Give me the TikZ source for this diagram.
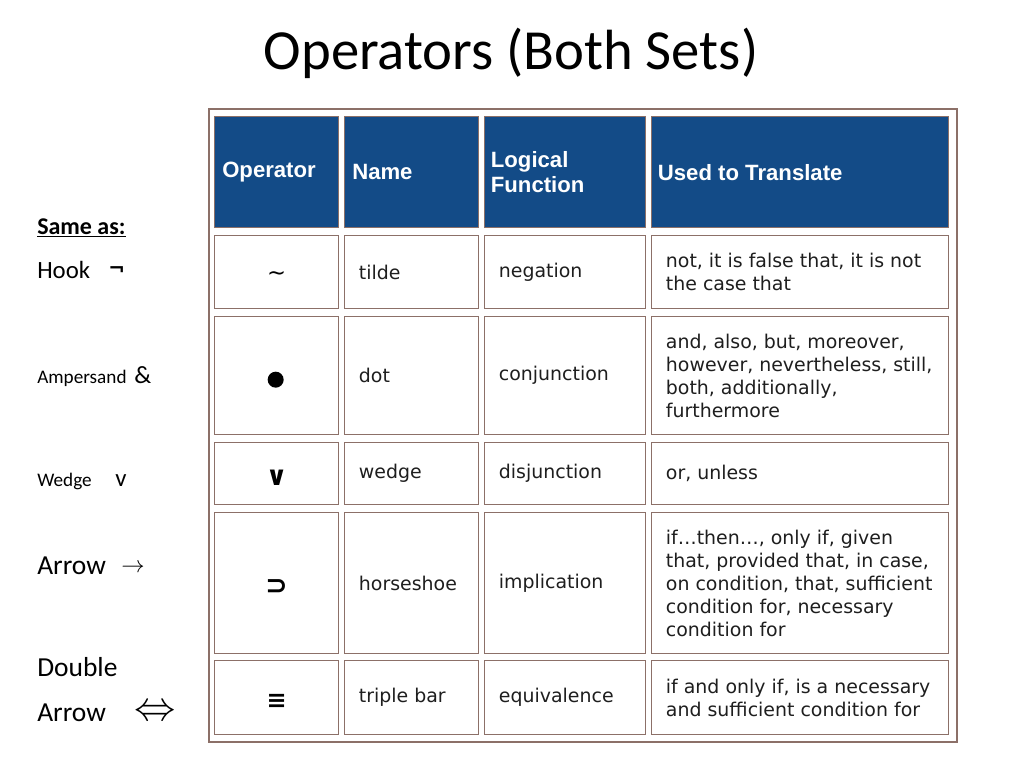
\documentclass[tikz,border=0pt]{standalone}
\usepackage{fix-cm}
\usepackage{fontspec}
\setmainfont{Carlito}
\newfontfamily\tabfont{DejaVu Sans}
\newfontfamily\headfont{Liberation Sans}
\usetikzlibrary{positioning}
\definecolor{headblue}{RGB}{19,75,135}
\definecolor{cellline}{RGB}{140,112,104}
\definecolor{bodytext}{RGB}{30,30,30}
\tikzset{
  tbl/.style={
    rectangle, draw=cellline, line width=1.2pt,
    inner sep=0pt, anchor=north west,
  },
  cell/.style={
    rectangle, draw=cellline, line width=1pt,
    inner sep=0pt, anchor=north west,
  },
  head/.style={cell, fill=headblue},
  headtext/.style={
    anchor=west, text=white, align=left, inner sep=0pt,
    font=\headfont\bfseries\fontsize{16.6}{18.75}\selectfont,
  },
  celltext/.style={
    anchor=west, text=bodytext, align=left, inner sep=0pt,
    font=\tabfont\fontsize{14.2}{17.25}\selectfont,
  },
  opsym/.style={text=black, inner sep=0pt, font=\tabfont\bfseries\fontsize{20}{24}\selectfont},
  title/.style={font=\fontsize{42.5}{50}\selectfont},
  side/.style={anchor=base west, inner sep=0pt, font=\fontsize{18.6}{22}\selectfont},
  sidebig/.style={side, font=\fontsize{20.6}{24}\selectfont},
  sidesmall/.style={side, font=\fontsize{14.4}{17}\selectfont},
}

\begin{document}
\begin{tikzpicture}[x=0.75pt,y=-0.75pt]
\useasboundingbox (0,0) rectangle (1024,768);
\node [title] (ttl) at (511,53) {Operators (Both Sets)};

\node [side, font=\bfseries\fontsize{18}{22}\selectfont] (same) at (37,234) {\underline{Same as:}};
\node [side] (hook) at (37,278) {Hook};
\node [side, font=\tabfont\bfseries\fontsize{15}{18}\selectfont] (neg) at (108,275) {¬};
\node [sidesmall] (amp) at (37,383) {Ampersand};
\node [side] (ampsym) at (134,383) {\&};
\node [sidesmall] (wed) at (37,486) {Wedge};
\node [side] (wedsym) at (115,486) {v};
\node [sidebig] (arr) at (37,574) {Arrow};
\node [sidebig, font=\fontsize{17.5}{20}\selectfont] (arrsym) at (121,572) {$\rightarrow$};
\node [sidebig] (dbl) at (37,676) {Double};
\node [sidebig] (darr) at (37,721) {Arrow};
\node [sidebig, font=\fontsize{31}{34}\selectfont] (darrsym) at (134,720) {$\Leftrightarrow$};

\node [tbl, minimum width=748*0.75pt, minimum height=633*0.75pt] (tab) at (208,108) {};
\foreach \c/\l/\w in {1/214/124,2/344/134,3/484/161,4/651/297}
  \node [head, minimum width=\w*0.75pt, minimum height=111*0.75pt] (h\c) at (\l,116) {};
\foreach \r/\t/\h in {1/235/73,2/316/118,3/442/62,4/512/141,5/660/74}
  \foreach \c/\l/\w in {1/214/124,2/344/134,3/484/161,4/651/297}
    \node [cell, minimum width=\w*0.75pt, minimum height=\h*0.75pt] (c\r\c) at (\l,\t) {};

\node [headtext, right=6pt of h1.west] (hop) {Operator};
\node [headtext, right=6pt of h2.west] (hnm) {Name};
\node [headtext, right=5pt of h3.west] (hlf) {Logical\\Function};
\node [headtext, right=5pt of h4.west] (hut) {Used to Translate};

\node [opsym, font=\tabfont\fontsize{17}{20}\selectfont] (op1) at ([yshift=-2.5pt]c11.center) {∼};
\node [circle, fill=black, inner sep=0pt, minimum size=12pt] (op2) at ([xshift=-0.75pt,yshift=-3pt]c21.center) {};
\node [opsym] (op3) at ([yshift=-3pt]c31.center) {∨};
\node [opsym] (op4) at ([yshift=-3pt]c41.center) {⊃};
\node [opsym, font=\tabfont\bfseries\fontsize{18}{22}\selectfont] (op5) at ([yshift=-2.5pt]c51.center) {≡};

\node [celltext, right=11pt of c12.west] (nm1) {tilde};
\node [celltext, right=11pt of c22.west] (nm2) {dot};
\node [celltext, right=11pt of c32.west] (nm3) {wedge};
\node [celltext, right=11pt of c42.west] (nm4) {horseshoe};
\node [celltext, right=11pt of c52.west] (nm5) {triple bar};

\node [celltext, right=11pt of c13.west] (lf1) {negation};
\node [celltext, right=11pt of c23.west] (lf2) {conjunction};
\node [celltext, right=11pt of c33.west] (lf3) {disjunction};
\node [celltext, right=11pt of c43.west] (lf4) {implication};
\node [celltext, right=11pt of c53.west] (lf5) {equivalence};

\node [celltext, right=11pt of c14.west] (ut1) {not, it is false that, it is not\\the case that};
\node [celltext, right=11pt of c24.west] (ut2) {and, also, but, moreover,\\however, nevertheless, still,\\both, additionally,\\furthermore};
\node [celltext, right=11pt of c34.west] (ut3) {or, unless};
\node [celltext, right=11pt of c44.west] (ut4) {if\dots then\dots, only if, given\\that, provided that, in case,\\on condition, that, sufficient\\condition for, necessary\\condition for};
\node [celltext, right=11pt of c54.west] (ut5) {if and only if, is a necessary\\and sufficient condition for};
\end{tikzpicture}
\end{document}
